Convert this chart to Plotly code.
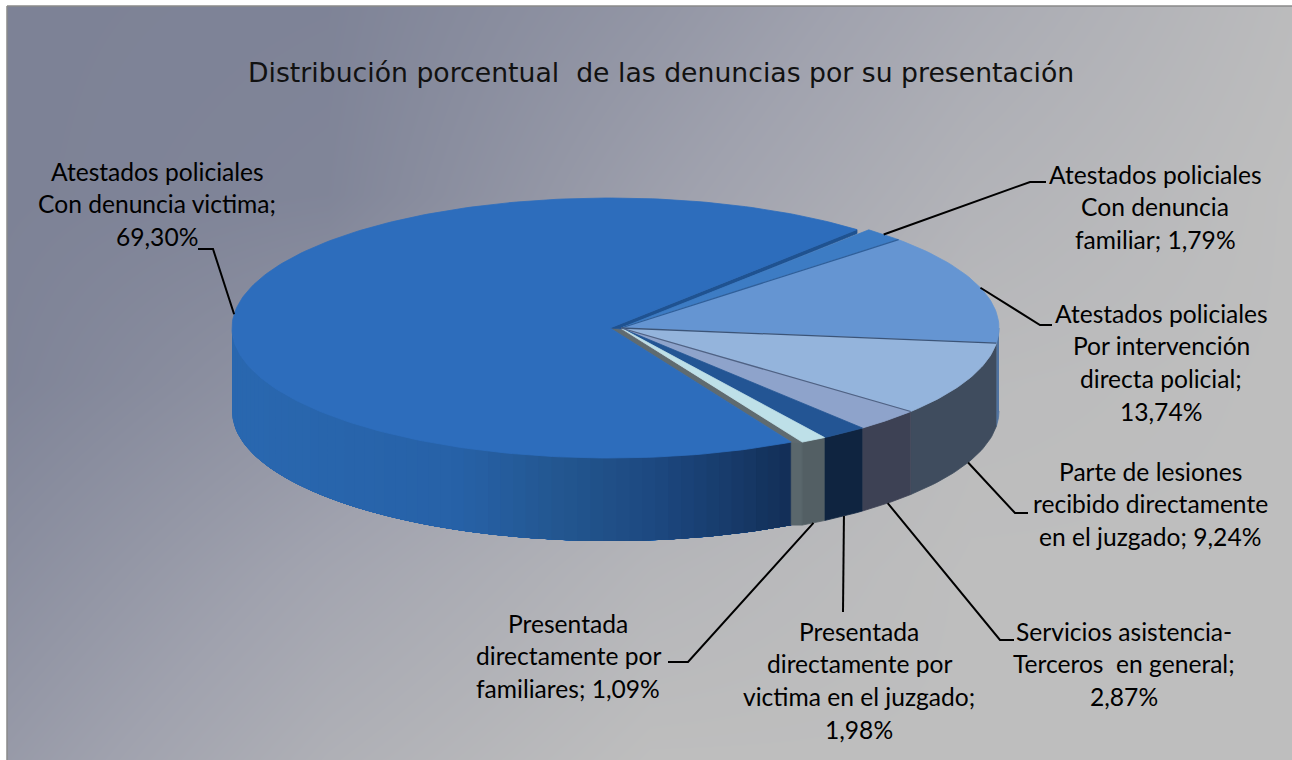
import math
import plotly.graph_objects as go

# ---- data -------------------------------------------------------------
categories = ["Atestados policiales Con denuncia familiar",
              "Atestados policiales Por intervención directa policial",
              "Parte de lesiones recibido directamente en el juzgado",
              "Servicios asistencia-Terceros en general",
              "Presentada directamente por victima en el juzgado",
              "Presentada directamente por familiares",
              "Atestados policiales Con denuncia victima"]
values = [1.79, 13.74, 9.24, 2.87, 1.98, 1.09, 69.30]
top_colors = ["#3D7CC4", "#6595D2", "#94B4DC", "#8EA3CB", "#235594", "#BEE0E8", "#2D6DBC"]
side_colors = ["#3D7CC4", "#4F72A0", "#3F4C5E", "#3D4154", "#0F2440", "#535F64", None]
main_side_stops = [(232, "#2A68B0"), (450, "#2762A8"), (560, "#23568F"),
                   (650, "#1D4880"), (720, "#183C6C"), (792, "#122D54")]

title_text = "Distribución porcentual\u00a0\u00a0de las denuncias por su presentación"
label_lines = [["Atestados policiales", "Con denuncia", "familiar; 1,79%"],
               ["Atestados policiales", "Por intervención", "directa policial;", "13,74%"],
               ["Parte de lesiones", "recibido directamente", "en el juzgado; 9,24%"],
               ["Servicios asistencia-", "Terceros\u00a0\u00a0en general;", "2,87%"],
               ["Presentada", "directamente por", "victima en el juzgado;", "1,98%"],
               ["Presentada", "directamente por", "familiares; 1,09%"],
               ["Atestados policiales", "Con denuncia victima;", "69,30%"]]
label_x = [1155, 1161, 1150, 1124, 859, 568, 157]
label_y = [174, 313, 471, 631, 631, 623, 171]
elbows = [[(1030, 182), (1046, 182)], [(1040, 325), (1052, 325)], [(1015, 513), (1028, 513)],
          [(1000, 640), (1014, 640)], [(843, 612)], [(688, 662), (668, 662)], [(213, 249), (198, 249)]]

# background shade read on a coarse grid (0 = darkest, 1 = lightest)
bg_x = [7, 328, 650, 971, 1292]
bg_y = [7, 195, 383, 571, 760]
bg_z = [[0.00, 0.02, 0.30, 0.65, 0.95],
        [0.00, 0.05, 0.45, 0.80, 1.00],
        [0.03, 0.30, 0.65, 0.95, 1.00],
        [0.20, 0.55, 0.85, 1.00, 1.00],
        [0.38, 0.75, 1.00, 1.00, 1.00]]

# ---- pie geometry -----------------------------------------------------
W, H = 1292, 760
CX, CY, RX, RY, DEPTH, MAIN_SHIFT = 621, 328, 378, 130, 83, 11
START = 49.2
total = sum(values)
edges = [START]
for v in values:
    edges.append(edges[-1] - v / total * 360)
centers = [CX] * 6 + [CX - MAIN_SHIFT]


def pt(cx, deg, dy=0):
    a = math.radians(deg)
    return cx + RX * math.cos(a), CY - RY * math.sin(a) + dy


def arc(cx, a0, a1, dy=0, n=90):
    return [pt(cx, a0 + (a1 - a0) * i / n, dy) for i in range(n + 1)]


def lerp_color(stops, x):
    def rgb(h):
        return [int(h[i:i + 2], 16) for i in (1, 3, 5)]
    for (x0, c0), (x1, c1) in zip(stops, stops[1:]):
        if x <= x1:
            t = max(0, (x - x0) / (x1 - x0))
            return "rgb(%d,%d,%d)" % tuple(a + (b - a) * t for a, b in zip(rgb(c0), rgb(c1)))
    return stops[-1][1]


fig = go.Figure()
fig.add_trace(go.Heatmap(x=bg_x, y=bg_y, z=bg_z, zsmooth="best", showscale=False, hoverinfo="skip",
                         zmin=0, zmax=1, colorscale=[[0, "#7D8296"], [0.5, "#A0A2AE"], [1, "#BEBEBE"]]))


def poly(points, color, line=None, width=0.8):
    fig.add_trace(go.Scatter(x=[p[0] for p in points], y=[p[1] for p in points], mode="lines",
                             fill="toself", fillcolor=color, line=dict(color=line or color, width=width),
                             hoverinfo="skip", showlegend=False))


# main slice outer wall, shaded in overlapping bands (each band is painted over by the next)
a_left = -180.0
a_right = edges[6]
N = 60
for i in range(N):
    a0 = a_left + (a_right - a_left) * i / N
    a1 = a_right
    top = arc(centers[6], a0, a1, n=80)
    bot = arc(centers[6], a1, a0, DEPTH, n=80)
    poly(top + bot + [top[0]], lerp_color(main_side_stops, top[0][0]), width=0)

# cut wall of the small slice next to the main one
p_main = pt(centers[6], edges[6])
p_fam = pt(CX, edges[6])
poly([p_main, p_fam, (p_fam[0], p_fam[1] + DEPTH), (p_main[0], p_main[1] + DEPTH), p_main], "#5A676C")

# outer walls of the other slices
for i in range(1, 6):
    a0, a1 = min(edges[i], 0), min(edges[i + 1], 0)
    if a0 == a1:
        continue
    poly(arc(CX, a0, a1, n=30) + arc(CX, a1, a0, DEPTH, n=30), side_colors[i])

# visible cut faces on the top
apex_main = (CX - MAIN_SHIFT, CY)
apex = (CX, CY)
poly([apex_main, p_main, p_fam, (CX + 1, CY + 2), apex_main], "#5F6B70")
p_top_main = pt(centers[6], START)
poly([apex_main, p_top_main, (p_top_main[0], p_top_main[1] + 4), (CX, CY + 1), apex_main], "#1F5290")

# top faces
poly([apex_main] + arc(centers[6], edges[6], edges[7], n=240) + [apex_main], top_colors[6])
for i in range(6):
    poly([apex] + arc(CX, edges[i], edges[i + 1], n=40) + [apex], top_colors[i])

# separators between the top faces
sep_colors = {1: "#2F5F9A", 2: "#3B5478", 3: "#4F6284"}
for i, c in sep_colors.items():
    e = pt(CX, edges[i])
    fig.add_trace(go.Scatter(x=[CX, e[0]], y=[CY, e[1]], mode="lines", line=dict(color=c, width=1.3),
                             hoverinfo="skip", showlegend=False))

# leader lines, from the middle of each slice's rim
for i, bends in enumerate(elbows):
    mid = (edges[i] + edges[i + 1]) / 2
    s = math.sin(math.radians(mid))
    drop = DEPTH if (s < -0.3) else 0
    start = pt(centers[i], mid, drop)
    pts = [start] + bends
    fig.add_trace(go.Scatter(x=[p[0] for p in pts], y=[p[1] for p in pts], mode="lines",
                             line=dict(color="#000000", width=2), hoverinfo="skip", showlegend=False))

annotations = []
for lines, x, y in zip(label_lines, label_x, label_y):
    for j, t in enumerate(lines):
        annotations.append(dict(x=x, y=y + j * 32.7, text=t, showarrow=False, xanchor="center", yanchor="middle",
                                font=dict(family="Lato", size=24.6, color="#000000")))
annotations.append(dict(x=661, y=72, text=title_text, showarrow=False, xanchor="center", yanchor="middle",
                        font=dict(family="DejaVu Sans", size=26.7, color="#111111")))

# white page margin and thin frame of the chart area
shapes = [dict(type="rect", x0=0, x1=7, y0=0, y1=H, fillcolor="#FFFFFF", line=dict(width=0), layer="above"),
          dict(type="rect", x0=0, x1=W, y0=0, y1=6, fillcolor="#FFFFFF", line=dict(width=0), layer="above"),
          dict(type="line", x0=7, x1=7, y0=6, y1=H, line=dict(color="#8A8A8A", width=1.5), layer="above"),
          dict(type="line", x0=7, x1=W, y0=6, y1=6, line=dict(color="#8A8A8A", width=1.5), layer="above")]

fig.update_layout(width=W, height=H, margin=dict(l=0, r=0, t=0, b=0), paper_bgcolor="#FFFFFF",
                  plot_bgcolor="#FFFFFF", showlegend=False, annotations=annotations, shapes=shapes,
                  xaxis=dict(range=[0, W], visible=False, fixedrange=True),
                  yaxis=dict(range=[H, 0], visible=False, fixedrange=True))

fig.write_html("out.html", config=dict(displayModeBar=False),
               post_script="document.body.style.margin='0';document.body.style.overflow='hidden';")
